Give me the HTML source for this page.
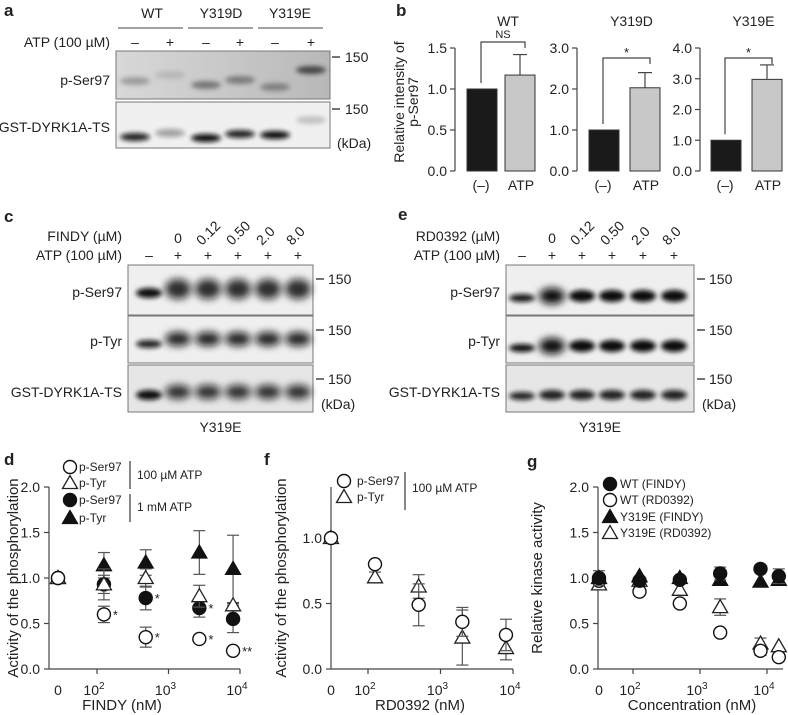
<!DOCTYPE html>
<html><head><meta charset="utf-8"><style>
body{margin:0;background:#fff}
svg{display:block;font-family:"Liberation Sans",Arial,sans-serif}
text{fill:#222}
</style></head><body>
<svg id="fig" width="788" height="715" viewBox="0 0 788 715" xmlns="http://www.w3.org/2000/svg">
<defs>
<filter id="bl" x="-30%" y="-100%" width="160%" height="300%"><feGaussianBlur stdDeviation="2.5"/></filter>
<filter id="bl2" x="-30%" y="-100%" width="160%" height="300%"><feGaussianBlur stdDeviation="4"/></filter>
<linearGradient id="gA" x1="0" x2="1"><stop offset="0" stop-color="#d8d8d8"/><stop offset="1" stop-color="#b8b8b8"/></linearGradient>
</defs>
<g id="root"></g>
</svg>
<script>
// ---------- data ----------
const bWTvals=[1.0,1.17], bWTerr=[0,0.25];
const bDvals=[1.0,2.03], bDerr=[0,0.37];
const bEvals=[1.0,2.98], bEerr=[0,0.47];
const dX=[0,125,480,2700,8000];
const dSerLow=[1.0,0.60,0.35,0.33,0.20], dSerLowE=[0,0.09,0.11,0,0];
const dTyrLow=[1.0,0.93,1.0,0.80,0.70], dTyrLowE=[0,0.17,0.1,0.12,0.02];
const dSerHigh=[1.0,0.93,0.78,0.67,0.55], dSerHighE=[0,0.1,0.13,0.1,0.15];
const dTyrHigh=[1.0,1.14,1.17,1.28,1.10], dTyrHighE=[0,0.14,0.14,0.24,0.37];
const fX=[0,125,500,2000,8000];
const fSer=[1.0,0.80,0.49,0.36,0.26], fSerE=[0,0,0.16,0.11,0.12];
const fTyr=[1.0,0.70,0.63,0.24,0.16], fTyrE=[0,0.04,0.09,0.21,0.09];
const gX=[0,125,500,2000,8000,15000];
const gWTF=[1.0,0.97,0.98,1.05,1.10,1.02], gWTFE=[0,0,0,0.07,0,0.08];
const gWTR=[0.97,0.85,0.72,0.40,0.20,0.13], gWTRE=[0,0,0,0,0.05,0];
const gYF=[1.0,1.02,1.0,0.98,0.96,0.98], gYFE=[0.08,0,0,0,0,0];
const gYR=[0.93,0.97,0.87,0.68,0.28,0.25], gYRE=[0.05,0,0,0.09,0.06,0];
const ticks05=[0,0.5,1.0,1.5,2.0];
const ticksF=[0,0.5,1.0];

const NS="http://www.w3.org/2000/svg";
const root=document.getElementById('root');
function el(tag,a){const e=document.createElementNS(NS,tag);for(const k in a)e.setAttribute(k,a[k]);root.appendChild(e);return e;}
function tx(x,y,s,size,anchor,name,extra){const e=el('text',Object.assign({x:x,y:y,'font-size':size||14,'text-anchor':anchor||'start'},extra||{}));e.innerHTML=s;


return e;}
function ln(x1,y1,x2,y2,name,w,c){const e=el('line',{x1:x1,y1:y1,x2:x2,y2:y2,stroke:c||'#444','stroke-width':w||1.5});


return e;}

[['a',4,16],['b',396,16],['c',4,222],['e',398,220],['d',4,465],['f',264,465],['g',527,467]].forEach(p=>{tx(p[1],p[2],p[0],17,'start','panel-label-'+p[0],{'font-weight':'bold'});});

// ---------- panel a ----------
tx(152,18,'WT',14,'middle','a-wt-header');tx(221,18,'Y319D',14,'middle','a-y319d-header');tx(290,18,'Y319E',14,'middle','a-y319e-header');
ln(118,28,183,28,'a-wt-line',1);ln(188,28,253,28,'a-y319d-line',1);ln(258,28,323,28,'a-y319e-line',1);
tx(110,47,'ATP (100 µM)',14,'end','a-atp-label');
const aLanes=[135,170,206,240,275,311];
aLanes.forEach((x,i)=>tx(x,47,i%2?'+':'–',14,'middle','a-atp-sign'));
let r=el('rect',{x:116,y:51,width:214,height:48,fill:'url(#gA)',stroke:'#777'});


r=el('rect',{x:116,y:102,width:214,height:46,fill:'#f0f0f0',stroke:'#777'});


const aB1=[[135,81,0.35],[170,75,0.15],[206,85,0.55],[240,80,0.5],[275,87,0.45],[311,70,0.85]];
aB1.forEach(b=>{const e=el('ellipse',{cx:b[0],cy:b[1],rx:15,ry:4,fill:'#333',opacity:b[2],filter:'url(#bl)'});

});
const aB2=[[135,137,0.9],[170,133,0.35],[206,138,1],[240,134,0.9],[275,135,1],[311,120,0.2]];
aB2.forEach(b=>{const e=el('ellipse',{cx:b[0],cy:b[1],rx:15,ry:4,fill:'#111',opacity:b[2],filter:'url(#bl)'});

});
ln(332,57,340,57,'a-marker');tx(345,62,'150',14,'start','a-150');
ln(332,109,340,109,'a-marker');tx(345,114,'150',14,'start','a-150');
tx(337,148,'(kDa)',14,'start','a-kda');
tx(110,85,'p-Ser97',14,'end','a-label-pser97');tx(110,132,'GST-DYRK1A-TS',14,'end','a-label-gst');

// ---------- panel b ----------
tx(0,0,'Relative intensity of',14,'middle','b-y-title',{transform:'translate(404,102) rotate(-90)'});
tx(0,0,'p-Ser97',14,'middle','b-y-title-2',{transform:'translate(418,102) rotate(-90)'});
function bPanel(ax,max,step,vals,errs,bx,title,sig,name){
  const y0=171,y1=48;const ys=v=>y0-(v/max)*(y0-y1);
  ln(ax,y1,ax,y0,name+'-y-axis',1.2);
  for(let v=0;v<=max+1e-9;v+=step){ln(ax-5,ys(v),ax,ys(v),name+'-tick',1.2);tx(ax-8,ys(v)+5,v.toFixed(1),14,'end',name+'-tick-label');}
  const cols=['#1a1a1a','#c8c8c8'];
  vals.forEach((v,i)=>{const e=el('rect',{x:bx[i],y:ys(v),width:30,height:y0-ys(v),fill:cols[i],stroke:'#333','stroke-width':1});
    
    
    if(errs[i]>0){ln(bx[i]+15,ys(v),bx[i]+15,ys(v+errs[i]),name+'-error',1.2);ln(bx[i]+8,ys(v+errs[i]),bx[i]+22,ys(v+errs[i]),name+'-error-cap',1.2);}
  });
  tx(bx[0]+14,190,'(–)',14,'middle',name+'-x-label');tx(bx[1]+16,190,'ATP',14,'middle',name+'-x-label');
  tx((bx[0]+bx[1])/2+22,26,title,14,'middle',name+'-title');
  const top=sig==='NS'?42:58;
  const p=el('polyline',{points:`${bx[0]+14},${ys(vals[0])-6} ${bx[0]+14},${top} ${bx[1]+20},${top} ${bx[1]+20},${top+6}`,fill:'none',stroke:'#444','stroke-width':1.2});
  
  
  tx((bx[0]+bx[1])/2+17,top-(sig==='NS'?4:1),sig,sig==='NS'?11:13,'middle',name+'-sig-label');
}
bPanel(455,1.5,0.5,bWTvals,bWTerr,[467,505],'WT','NS','b-wt');
bPanel(577,3.0,1.0,bDvals,bDerr,[589,630],'Y319D','*','b-y319d');
bPanel(700,4.0,1.0,bEvals,bEerr,[711,752],'Y319E','*','b-y319e');

// ---------- panels c & e ----------
function blotPanel(bx,lanes,drug,labelR,name,style){
  const w=lanes[5]-lanes[0]+36;
  tx(labelR,241,drug,14,'end',name+'-drug-label');
  tx(labelR,260,'ATP (100 µM)',14,'end',name+'-atp-label');
  ['0','0.12','0.50','2.0','8.0'].forEach((c,i)=>{const x=lanes[i+1];
    if(i===0)tx(x,243,c,14,'middle',name+'-conc');else tx(0,0,c,14,'start',name+'-conc',{transform:`translate(${x-6},246) rotate(-45)`});});
  lanes.forEach((x,i)=>tx(x,260,i?'+':'–',14,'middle',name+'-atp-sign'));
  const rows=[[265,50],[316,47],[365,47]];
  const rn=['pser97','ptyr','gst'];
  rows.forEach((rw,j)=>{const e=el('rect',{x:bx,y:rw[0],width:w,height:rw[1],fill:j===2?'#e6e6e6':'#efefef',stroke:'#777'});
    
    
    ln(bx+w+3,rw[0]+14,bx+w+11,rw[0]+14,name+'-marker');
    tx(bx+w+15,rw[0]+19,'150',14,'start',name+'-150');
  });
  tx(bx+w+8,409,'(kDa)',14,'start',name+'-kda');
  tx(bx-6,297,'p-Ser97',14,'end',name+'-label-pser97');
  tx(bx-6,346,'p-Tyr',14,'end',name+'-label-ptyr');
  tx(bx-6,397,'GST-DYRK1A-TS',14,'end',name+'-label-gst');
  tx(bx+w/2,432,'Y319E',14,'middle',name+'-sample-label');
  lanes.forEach((x,i)=>{
    const bands=style==='c'?
      (i===0?[[293,5,1],[344,4,0.9],[395,5,1]]:[[289,10,0.85],[339,7,0.9],[392,7,0.85]]):
      (i===0?[[298,4,0.95],[348,4,1],[396,4,0.9]]:[[296,i===1?8:6,1],[346,i===1?8:6,1],[395,5,0.9]]);
    bands.forEach(b=>{const e=el('ellipse',{cx:x,cy:b[0],rx:13,ry:b[1],fill:'#111',opacity:b[2],filter:b[1]>6?'url(#bl2)':'url(#bl)'});
      
      });
  });
}
blotPanel(128,[149,178,208,238,268,298],'FINDY (µM)',122,'c','c');
blotPanel(506,[522,552,582,612,643,674],'RD0392 (µM)',500,'e','e');

// ---------- scatter helpers ----------
function axes(o){
  ln(o.ax,o.yTop,o.ax,o.y0,o.name+'-y-axis',1.2);
  ln(o.ax,o.y0,o.xEnd,o.y0,o.name+'-x-axis',1.2);
  o.yt.forEach(v=>{ln(o.ax-5,o.ys(v),o.ax,o.ys(v),o.name+'-y-tick',1.2);tx(o.ax-9,o.ys(v)+5,v.toFixed(1),14,'end',o.name+'-y-tick-label');});
  tx(o.zeroX,o.y0+26,'0',14,'middle',o.name+'-x-tick-label');
  [2,3,4].forEach(p=>{const x=o.xs(Math.pow(10,p));ln(x,o.y0,x,o.y0+5,o.name+'-x-tick',1.2);
    tx(x-3,o.y0+26,'10<tspan font-size="10" dy="-6">'+p+'</tspan>',14,'middle',o.name+'-x-tick-label');});
  tx(o.xlx,710,o.xl,15,'middle',o.name+'-x-title');
  tx(0,0,o.yl,15,'middle',o.name+'-y-title',{transform:`translate(${o.ylx},${o.ylc}) rotate(-90)`});
}
function marker(x,y,shape,filled,name){
  let e;
  if(shape==='c')e=el('circle',{cx:x,cy:y,r:6.5,fill:filled?'#111':'#fff',stroke:'#111','stroke-width':1.4});
  else e=el('polygon',{points:`${x},${y-7.5} ${x-7.5},${y+5.5} ${x+7.5},${y+5.5}`,fill:filled?'#111':'#fff',stroke:filled?'#111':'#222','stroke-width':1.3});
  
  
  return e;
}
function errbar(x,ys,v,e,name){if(!e)return;const a=ys(v+e),b=ys(v-e);
  ln(x,a,x,b,name+'-error',1.2,'#555');ln(x-6,a,x+6,a,name+'-error-cap',1.2,'#555');ln(x-6,b,x+6,b,name+'-error-cap',1.2,'#555');}
function px(o,xv){return xv===0?o.zeroX:o.xs(xv);}
function series(o,X,Y,E,shape,filled,name){
  X.forEach((xv,i)=>{const x=px(o,xv);if(E)errbar(x,o.ys,Y[i],E[i],name);});
  X.forEach((xv,i)=>{marker(px(o,xv),o.ys(Y[i]),shape,filled,name+'-point');});
}

// ---------- panel d ----------
const D={name:'d',ax:49,yTop:487,y0:669,xEnd:240,zeroX:58,yt:ticks05,
  ys:v=>669-v*91,xs:v=>97+(Math.log10(v)-2)*71.5,xl:'FINDY (nM)',xlx:122,yl:'Activity of the phosphorylation',ylx:18,ylc:578};
axes(D);
series(D,dX,dTyrHigh,dTyrHighE,'t',true,'d-ptyr-1mm');
series(D,dX,dSerHigh,dSerHighE,'c',true,'d-pser97-1mm');
series(D,dX,dTyrLow,dTyrLowE,'t',false,'d-ptyr-100um');
series(D,dX,dSerLow,dSerLowE,'c',false,'d-pser97-100um');
const dStars=[[1,dSerLow,'*'],[2,dSerLow,'*'],[3,dSerLow,'*'],[4,dSerLow,'**'],[2,dSerHigh,'*'],[3,dSerHigh,'*']];
dStars.forEach(s=>tx(px(D,dX[s[0]])+9,D.ys(s[1][s[0]])+5,s[2],13,'start','d-significance'));
marker(70,467,'c',false,'d-legend-marker');tx(79,471,'p-Ser97',12,'start','d-legend-text');
marker(70,483,'t',false,'d-legend-marker');tx(79,487,'p-Tyr',12,'start','d-legend-text');
marker(70,500,'c',true,'d-legend-marker');tx(79,504,'p-Ser97',12,'start','d-legend-text');
marker(70,518,'t',true,'d-legend-marker');tx(79,522,'p-Tyr',12,'start','d-legend-text');
ln(130,461,130,489,'d-legend-bracket',1.3);ln(130,494,130,522,'d-legend-bracket',1.3);
tx(137,479,'100 µM ATP',12,'start','d-legend-group');tx(137,511,'1 mM ATP',12,'start','d-legend-group');

// ---------- panel f ----------
const F={name:'f',ax:331,yTop:487,y0:669,xEnd:513,zeroX:331,yt:ticksF,
  ys:v=>669-v*131,xs:v=>368+(Math.log10(v)-2)*72.5,xl:'RD0392 (nM)',xlx:420,yl:'Activity of the phosphorylation',ylx:286,ylc:578};
axes(F);
series(F,fX,fTyr,fTyrE,'t',false,'f-ptyr');
series(F,fX,fSer,fSerE,'c',false,'f-pser97');
marker(344,481,'c',false,'f-legend-marker');tx(357,485,'p-Ser97',12,'start','f-legend-text');
marker(344,497,'t',false,'f-legend-marker');tx(357,501,'p-Tyr',12,'start','f-legend-text');
ln(405,472,405,510,'f-legend-bracket',1.3);tx(412,492,'100 µM ATP',12,'start','f-legend-group');

// ---------- panel g ----------
const G={name:'g',ax:598,yTop:487,y0:669,xEnd:783,zeroX:599,yt:ticks05,
  ys:v=>669-v*91,xs:v=>633+(Math.log10(v)-2)*67,xl:'Concentration (nM)',xlx:692,yl:'Relative kinase activity',ylx:542,ylc:578};
axes(G);
series(G,gX,gYR,gYRE,'t',false,'g-y319e-rd0392');
series(G,gX,gWTR,gWTRE,'c',false,'g-wt-rd0392');
series(G,gX,gYF,gYFE,'t',true,'g-y319e-findy');
series(G,gX,gWTF,gWTFE,'c',true,'g-wt-findy');
marker(610,484,'c',true,'g-legend-marker');tx(620,488,'WT (FINDY)',12,'start','g-legend-text');
marker(610,500,'c',false,'g-legend-marker');tx(620,504,'WT (RD0392)',12,'start','g-legend-text');
marker(610,517,'t',true,'g-legend-marker');tx(620,521,'Y319E (FINDY)',12,'start','g-legend-text');
marker(610,533,'t',false,'g-legend-marker');tx(620,537,'Y319E (RD0392)',12,'start','g-legend-text');
</script>
</body></html>
